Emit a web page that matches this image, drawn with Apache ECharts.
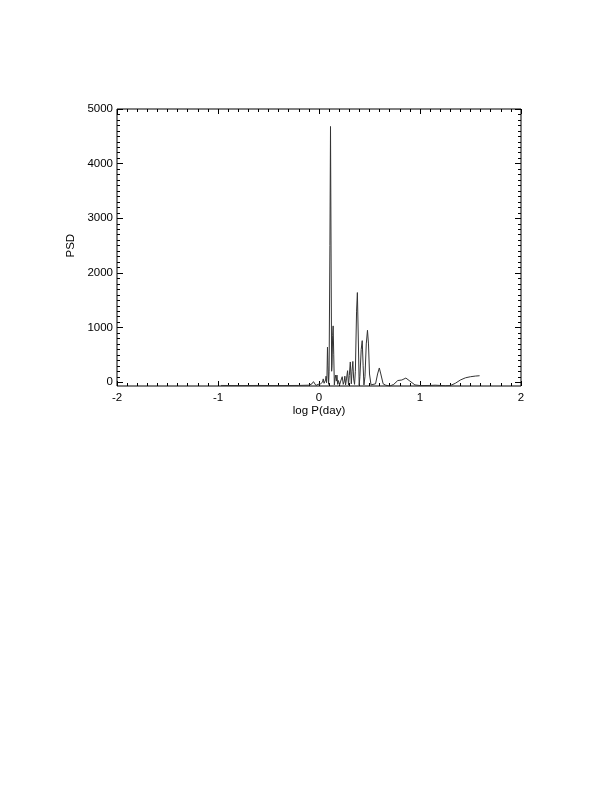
<!DOCTYPE html>
<html>
<head>
<meta charset="utf-8">
<script src="https://cdn.jsdelivr.net/npm/echarts@6/dist/echarts.min.js"></script>
<style>
html,body{margin:0;padding:0;background:#fff;}
#chart{width:612px;height:792px;}
</style>
</head>
<body>
<div id="chart"></div>
<script>
// log P(day) values
const logP = [
  -0.97, -0.80, -0.60, -0.40, -0.20, -0.10, -0.07, -0.055, -0.045, -0.03,
  -0.01, 0.00, 0.015, 0.025, 0.035, 0.042, 0.05, 0.058, 0.065, 0.07,
  0.075, 0.079, 0.084, 0.089, 0.095, 0.100, 0.108, 0.114, 0.120, 0.125,
  0.129, 0.135, 0.140, 0.146, 0.152, 0.158, 0.165, 0.172, 0.178, 0.185,
  0.192, 0.198, 0.204, 0.215, 0.23, 0.24, 0.25, 0.256, 0.263, 0.272,
  0.283, 0.292, 0.30, 0.31, 0.32, 0.327, 0.335, 0.343, 0.352, 0.36,
  0.372, 0.380, 0.388, 0.398, 0.405, 0.418, 0.428, 0.437, 0.445, 0.455,
  0.468, 0.480, 0.490, 0.500, 0.515, 0.53, 0.56, 0.58, 0.597, 0.612,
  0.635, 0.66, 0.70, 0.74, 0.78, 0.82, 0.86, 0.90, 0.95, 1.00,
  1.10, 1.15, 1.20, 1.25, 1.30, 1.35, 1.40, 1.45, 1.50, 1.55, 1.59
];
// PSD values
const psd = [
  -60, -62, -60, -62, -60, -55, -30, 10, -20, -60,
  -40, -60, -30, -60, 0, 60, -20, -50, 40, 110,
  -10, 100, 640, 300, -40, 200, 2500, 4680, 2200, 200,
  300, 850, 1030, 500, -50, 60, 130, 20, 130, -40,
  30, 60, -50, 20, 100, -40, 20, 110, -50, 60,
  210, -50, 120, 370, -30, 200, 380, 60, -40, 200,
  1300, 1640, 900, -60, 100, 600, 760, 300, -50, 100,
  700, 950, 700, 150, -50, -60, -30, 150, 260, 150,
  -30, -55, -72, -40, 30, 40, 75, 20, -50, -62,
  -60, -55, -60, -65, -62, -20, 40, 80, 100, 112, 118
];
const xTicks = [-2, -1, 0, 1, 2];
const yTicks = [0, 1000, 2000, 3000, 4000, 5000];

const chart = echarts.init(document.getElementById('chart'), null, {renderer: 'canvas'});
const font = 'Liberation Sans, Arial, Helvetica, sans-serif';
const gl = 117, gr = 91, gt = 109, gb = 406;
const tickStyle = {color: '#000', width: 1};
const plain = v => String(v);

const option = {
  animation: false,
  backgroundColor: '#fff',
  grid: [
    {left: gl, right: gr, top: gt, bottom: gb, show: true, borderColor: '#000', borderWidth: 1, backgroundColor: 'transparent'},
    {left: gl, right: gr, top: gt, bottom: 792 - 382.3, show: false}
  ],
  xAxis: [
    {
      type: 'value', gridIndex: 0, position: 'bottom', min: xTicks[0], max: xTicks[xTicks.length - 1], interval: 1,
      axisLine: {show: false, onZero: false},
      axisTick: {show: true, inside: true, length: 5, lineStyle: tickStyle},
      minorTick: {show: true, splitNumber: 10, length: 3, lineStyle: tickStyle},
      splitLine: {show: false},
      axisLabel: {show: true, color: '#000', fontFamily: font, fontSize: 11.5, margin: 6, formatter: plain},
      name: 'log P(day)', nameLocation: 'middle', nameGap: 16,
      nameTextStyle: {color: '#000', fontFamily: font, fontSize: 11.5}
    },
    {
      type: 'value', gridIndex: 0, position: 'top', min: xTicks[0], max: xTicks[xTicks.length - 1], interval: 1,
      axisLine: {show: false, onZero: false},
      axisTick: {show: true, inside: true, length: 5, lineStyle: tickStyle},
      minorTick: {show: true, splitNumber: 10, length: 3, lineStyle: tickStyle},
      splitLine: {show: false},
      axisLabel: {show: false}
    },
    {
      type: 'value', gridIndex: 1, min: -2, max: 2, show: false,
      axisLine: {show: false, onZero: false}
    }
  ],
  yAxis: [
    {
      type: 'value', gridIndex: 0, min: -70, max: 5000, show: false,
      axisLine: {show: false, onZero: false}
    },
    {
      type: 'value', gridIndex: 1, position: 'left', min: yTicks[0], max: yTicks[yTicks.length - 1], interval: 1000,
      axisLine: {show: false, onZero: false},
      axisTick: {show: true, inside: true, length: 6, lineStyle: tickStyle},
      minorTick: {show: true, splitNumber: 10, length: 3, lineStyle: tickStyle},
      splitLine: {show: false},
      axisLabel: {show: true, color: '#000', fontFamily: font, fontSize: 11.5, margin: 4, formatter: plain},
      name: 'PSD', nameLocation: 'middle', nameGap: 35,
      nameTextStyle: {color: '#000', fontFamily: font, fontSize: 11.5}
    },
    {
      type: 'value', gridIndex: 1, position: 'right', min: yTicks[0], max: yTicks[yTicks.length - 1], interval: 1000,
      axisLine: {show: false, onZero: false},
      axisTick: {show: true, inside: true, length: 6, lineStyle: tickStyle},
      minorTick: {show: true, splitNumber: 10, length: 3, lineStyle: tickStyle},
      splitLine: {show: false},
      axisLabel: {show: false}
    }
  ],
  series: [
    {
      type: 'line', xAxisIndex: 0, yAxisIndex: 0,
      data: logP.map((x, i) => [x, psd[i]]),
      showSymbol: false, symbol: 'none', smooth: false,
      lineStyle: {color: '#333', width: 1},
      clip: true
    }
  ]
};
chart.setOption(option);
</script>
</body>
</html>
